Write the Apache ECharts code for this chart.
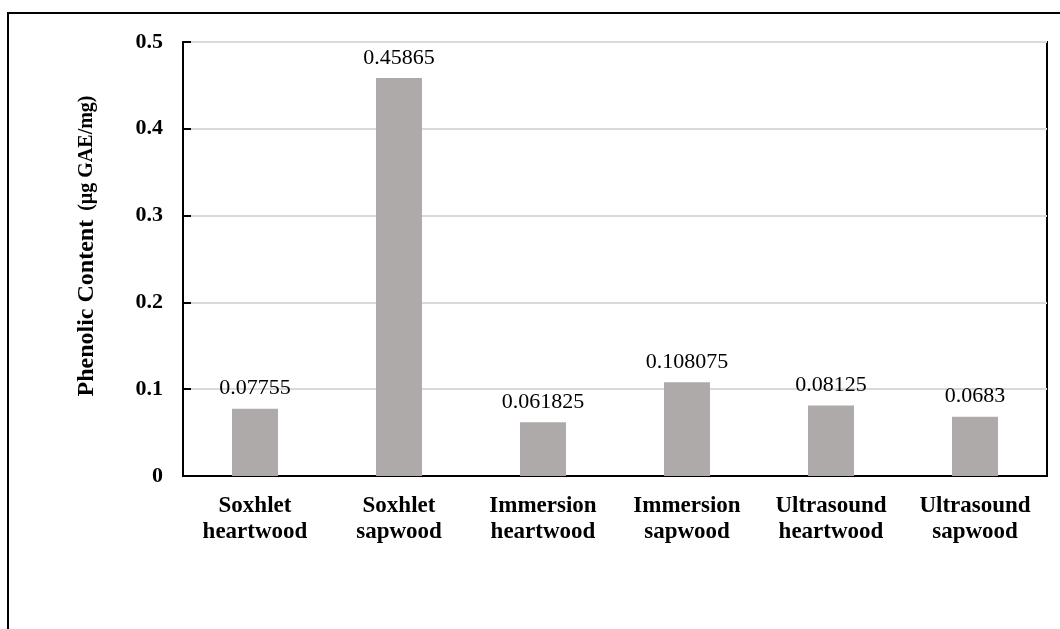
<!DOCTYPE html>
<html>
<head>
<meta charset="utf-8">
<script src="https://cdn.jsdelivr.net/npm/echarts@6/dist/echarts.min.js"></script>
<style>
html,body{margin:0;padding:0;background:#fff;}
#chart{width:1060px;height:629px;}
</style>
</head>
<body>
<div id="chart"></div>
<script>
var categories = ['Soxhlet\nheartwood', 'Soxhlet\nsapwood', 'Immersion\nheartwood', 'Immersion\nsapwood', 'Ultrasound\nheartwood', 'Ultrasound\nsapwood'];
var values = [0.07755, 0.45865, 0.061825, 0.108075, 0.08125, 0.0683];
var yTicks = [0, 0.1, 0.2, 0.3, 0.4, 0.5];

var FONT = '"Liberation Serif", "Times New Roman", serif';
var chart = echarts.init(document.getElementById('chart'), null, {renderer: 'canvas'});
chart.setOption({
  animation: false,
  backgroundColor: '#ffffff',
  textStyle: {fontFamily: FONT},
  graphic: [{
    type: 'rect',
    shape: {x: 8, y: 13, width: 1200, height: 800},
    style: {fill: 'none', stroke: '#000', lineWidth: 2},
    silent: true
  }],
  grid: {
    left: 183, right: 13, top: 42, bottom: 153,
    show: true, borderColor: '#000', borderWidth: 2, backgroundColor: 'transparent'
  },
  xAxis: {
    type: 'category',
    data: categories,
    axisLine: {show: true, lineStyle: {color: '#000', width: 2}},
    axisTick: {show: false},
    axisLabel: {
      interval: 0, color: '#000', fontFamily: FONT, fontWeight: 'bold',
      fontSize: 23, lineHeight: 26, margin: 17
    }
  },
  yAxis: {
    type: 'value',
    min: yTicks[0], max: yTicks[yTicks.length - 1], interval: 0.1,
    name: '{a|Phenolic Content}   {b|(µg GAE/mg)}',
    nameLocation: 'middle',
    nameGap: 84,
    nameRotate: 90,
    nameTextStyle: {
      rich: {
        a: {fontFamily: FONT, fontWeight: 'bold', fontSize: 24, color: '#000', padding: [0, 0, 0, 26]},
        b: {fontFamily: FONT, fontWeight: 'bold', fontSize: 20, color: '#000'}
      }
    },
    axisLine: {show: true, lineStyle: {color: '#000', width: 2}},
    axisTick: {show: true, inside: true, length: 8, lineStyle: {color: '#000', width: 2}},
    splitLine: {show: true, lineStyle: {color: '#d9d9d9', width: 2}},
    axisLabel: {
      color: '#000', fontFamily: FONT, fontWeight: 'bold', fontSize: 22, margin: 20,
      formatter: function (v) { return String(Math.round(v * 10) / 10); }
    }
  },
  series: [{
    type: 'bar',
    data: values,
    barWidth: 46,
    itemStyle: {color: '#AEAAAA'},
    label: {
      show: true, position: 'top', distance: 9,
      color: '#000', fontFamily: FONT, fontSize: 22,
      formatter: function (p) { return String(p.value); }
    }
  }]
});
</script>
</body>
</html>
